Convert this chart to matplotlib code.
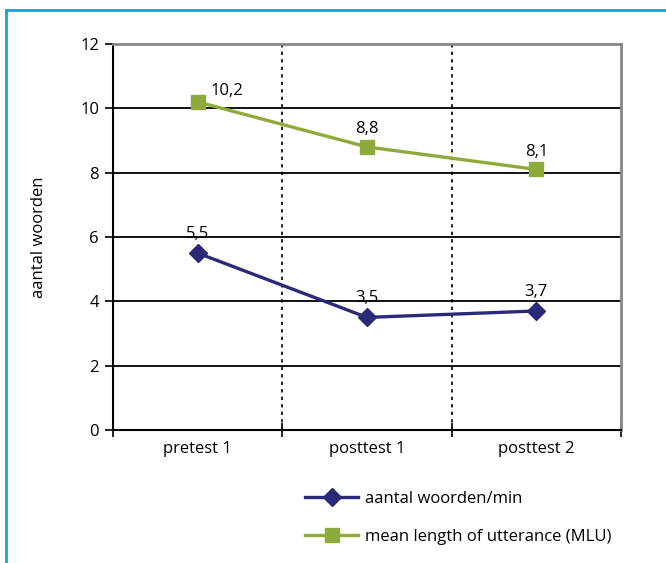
import matplotlib.pyplot as plt
from matplotlib.patches import Rectangle

categories = ["pretest 1", "posttest 1", "posttest 2"]
woorden_per_min = [5.5, 3.5, 3.7]
mlu = [10.2, 8.8, 8.1]
woorden_labels = ["5,5", "3,5", "3,7"]
mlu_labels = ["10,2", "8,8", "8,1"]

blue = "#2b2a78"
green = "#8daa3b"

plt.rcParams['font.family'] = ['Open Sans', 'DejaVu Sans']
plt.rcParams['font.size'] = 12

fig = plt.figure(figsize=(6.66, 5.63), dpi=100)
ax = fig.add_axes([113/666, 1-430/563, 508/666, 386/563])

# blue frame around the figure
fig.patches.append(Rectangle((6/666, -0.1), 1.2, 1 - 10/563 + 0.1, transform=fig.transFigure,
                             fill=False, edgecolor="#1a9fd6", linewidth=2))

x = [i + 0.5 for i in range(len(categories))]

ax.plot(x, woorden_per_min, color=blue, lw=2.4, marker="D", ms=9,
        label="aantal woorden/min", zorder=3)
ax.plot(x, mlu, color=green, lw=2.4, marker="s", ms=10,
        label="mean length of utterance (MLU)", zorder=3)

for xi, yi, t in zip(x, woorden_per_min, woorden_labels):
    ax.annotate(t, (xi, yi), xytext=(0, 8), textcoords="offset points",
                ha="center", va="bottom")
for i, (xi, yi, t) in enumerate(zip(x, mlu, mlu_labels)):
    if i == 0:
        ax.annotate(t, (xi, yi), xytext=(9, 2), textcoords="offset points",
                    ha="left", va="bottom")
    else:
        ax.annotate(t, (xi, yi), xytext=(0, 7), textcoords="offset points",
                    ha="center", va="bottom")

ax.set_xlim(0, 3)
ax.set_ylim(0, 12)
ax.set_yticks(range(0, 13, 2))
ax.set_xticks([0, 1, 2, 3])
ax.set_xticklabels([])
ax.set_xticks(x, minor=True)
ax.set_xticklabels(categories, minor=True)
ax.tick_params(axis="x", which="minor", length=0, pad=8)
ax.tick_params(axis="x", which="major", direction="inout", length=10, width=1.2)
ax.tick_params(axis="y", direction="out", length=6, width=1.2, pad=4)

for yv in range(2, 12, 2):
    ax.axhline(yv, color="black", lw=1.3, zorder=1)
for xv in [1, 2]:
    ax.axvline(xv, color="black", lw=1.2, ls=(0, (2, 2.5)), zorder=1)

ax.spines["left"].set_linewidth(1.5)
ax.spines["bottom"].set_linewidth(1.5)
ax.spines["top"].set_color("#888888")
ax.spines["top"].set_linewidth(2)
ax.spines["right"].set_color("#888888")
ax.spines["right"].set_linewidth(2)
ax.spines["right"].set_linestyle((0, (3, 1)))

ax.set_ylabel("aantal woorden", labelpad=24)

fig.legend(loc="upper left", bbox_to_anchor=(290/666, 1 - 476/563), frameon=False,
           handlelength=3.2, labelspacing=1.3, handletextpad=0.4)

fig.savefig("out.png", dpi=100)
